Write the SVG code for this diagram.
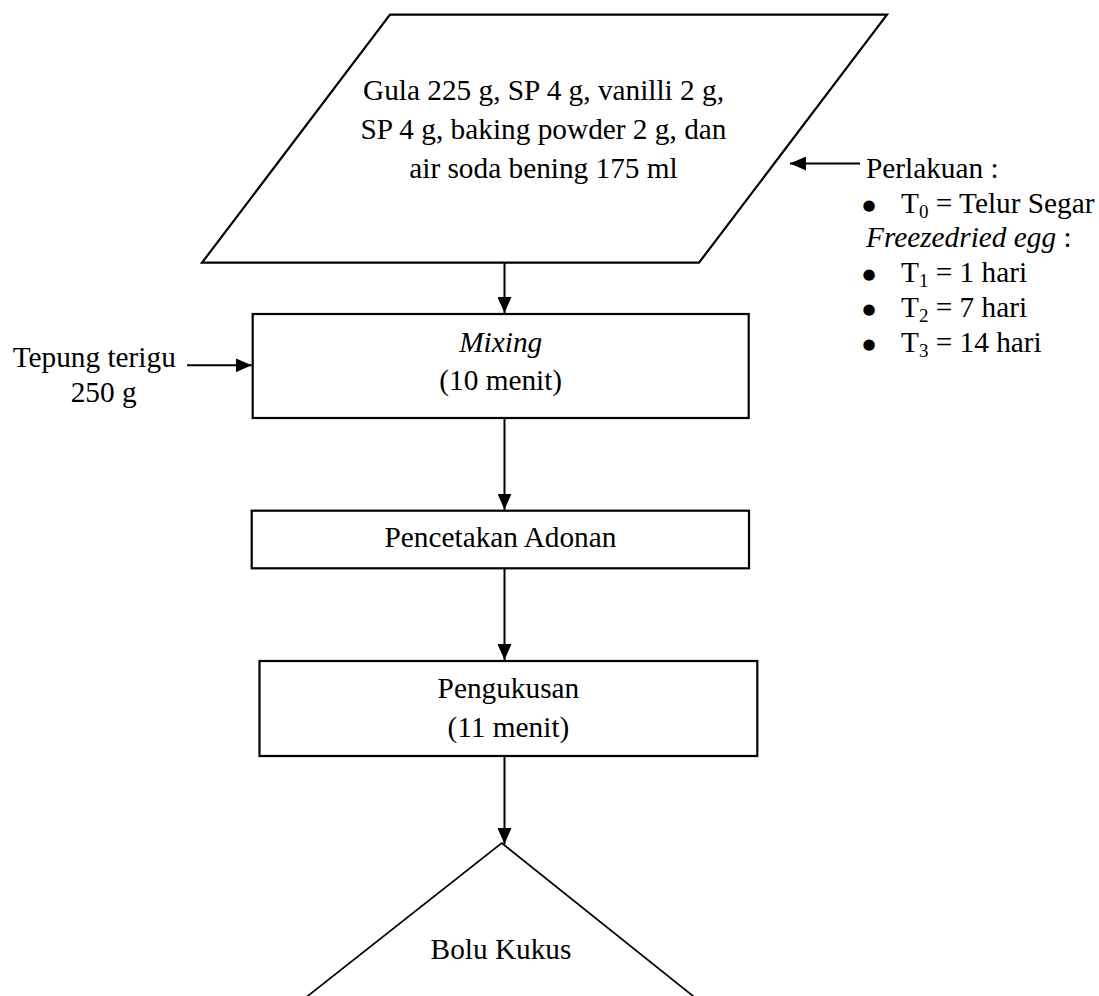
<svg xmlns="http://www.w3.org/2000/svg" width="1099" height="996" viewBox="0 0 1099 996">
<defs>
<style>
text{font-family:"Liberation Serif","Times New Roman",serif;font-size:29.3px;fill:#000}
.c{text-anchor:middle}
.it{font-style:italic}
.b{font-family:"DejaVu Sans",sans-serif;font-size:15px}
.shape{fill:#fff;stroke:#000;stroke-width:2.2}
.tri{fill:#fff;stroke:#000;stroke-width:1.7}
.conn{stroke:#000;stroke-width:2;fill:none}
</style>
<marker id="ah" markerUnits="userSpaceOnUse" markerWidth="16" markerHeight="14" refX="16" refY="7" orient="auto">
<path d="M0,0 L16,7 L0,14 z" fill="#000"/>
</marker>
</defs>
<rect width="1099" height="996" fill="#fff"/>

<g id="input">
<polygon class="shape" points="390,14.7 887,14.7 699,262.7 202,262.7"/>
<text class="c" x="543.5" y="100">Gula 225 g, SP 4 g, vanilli 2 g,</text>
<text class="c" x="543.5" y="139">SP 4 g, baking powder 2 g, dan</text>
<text class="c" x="543.5" y="178">air soda bening 175 ml</text>
</g>

<g id="perlakuan">
<text x="866" y="178">Perlakuan :</text>
<text class="b" x="862.5" y="210">●</text>
<text x="901" y="213">T<tspan font-size="19" dy="5">0</tspan><tspan dy="-5"> = Telur Segar</tspan></text>
<text x="866" y="247"><tspan class="it">Freezedried egg</tspan> :</text>
<text class="b" x="862.5" y="279">●</text>
<text x="901" y="282">T<tspan font-size="19" dy="5">1</tspan><tspan dy="-5"> = 1 hari</tspan></text>
<text class="b" x="862.5" y="314">●</text>
<text x="901" y="317">T<tspan font-size="19" dy="5">2</tspan><tspan dy="-5"> = 7 hari</tspan></text>
<text class="b" x="862.5" y="349">●</text>
<text x="901" y="352">T<tspan font-size="19" dy="5">3</tspan><tspan dy="-5"> = 14 hari</tspan></text>
</g>

<g id="tepung">
<text x="12.7" y="367">Tepung terigu</text>
<text x="70.7" y="402">250 g</text>
</g>

<g id="mixing">
<rect class="shape" x="252.7" y="314" width="496" height="104"/>
<text class="c it" x="500.7" y="352">Mixing</text>
<text class="c" x="500.7" y="390">(10 menit)</text>
</g>

<g id="pencetakan">
<rect class="shape" x="251.7" y="510.7" width="497.3" height="57.6"/>
<text class="c" x="500.5" y="547">Pencetakan Adonan</text>
</g>

<g id="pengukusan">
<rect class="shape" x="259.5" y="661" width="497.8" height="95"/>
<text class="c" x="508.4" y="698">Pengukusan</text>
<text class="c" x="508.4" y="737">(11 menit)</text>
</g>

<g id="bolu">
<polygon class="tri" points="501.7,843 710.5,1010 290,1010"/>
<text class="c" x="501" y="959">Bolu Kukus</text>
</g>

<g id="connectors">
<line class="conn" x1="504.5" y1="262.7" x2="504.5" y2="313" marker-end="url(#ah)"/>
<line class="conn" x1="860" y1="163.5" x2="790" y2="163.5" marker-end="url(#ah)"/>
<line class="conn" x1="187" y1="365.3" x2="251.7" y2="365.3" marker-end="url(#ah)"/>
<line class="conn" x1="504.5" y1="418" x2="504.5" y2="509.7" marker-end="url(#ah)"/>
<line class="conn" x1="504.5" y1="568.3" x2="504.5" y2="660" marker-end="url(#ah)"/>
<line class="conn" x1="504.5" y1="756" x2="504.5" y2="844" marker-end="url(#ah)"/>
</g>
</svg>
